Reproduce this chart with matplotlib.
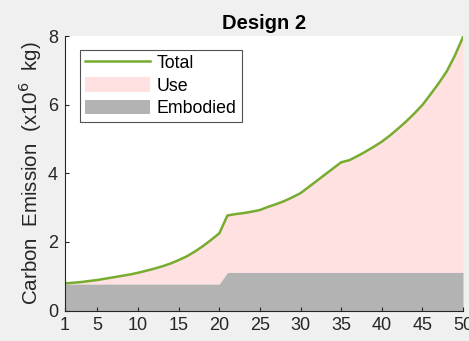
import numpy as np
import matplotlib.pyplot as plt

# 年份
years = list(range(1, 51))

# 隐含碳排放 (x10^6 kg)
embodied = [0.77] * 20 + [1.11] * 30

# 总碳排放 (x10^6 kg)
total = [0.79, 0.81, 0.83, 0.86, 0.89, 0.93, 0.97, 1.01, 1.05, 1.10,
         1.16, 1.22, 1.29, 1.37, 1.47, 1.58, 1.72, 1.88, 2.06, 2.25,
         2.77, 2.81, 2.84, 2.88, 2.93, 3.02, 3.10, 3.19, 3.30, 3.42,
         3.60, 3.78, 3.96, 4.14, 4.32, 4.38, 4.50, 4.63, 4.77, 4.92,
         5.10, 5.30, 5.51, 5.74, 5.99, 6.30, 6.62, 6.97, 7.43, 7.97]

x_ticks = [1, 5, 10, 15, 20, 25, 30, 35, 40, 45, 50]
y_ticks = [0, 2, 4, 6, 8]

plt.rcParams['font.family'] = ['Liberation Sans', 'DejaVu Sans']

fig = plt.figure(figsize=(4.69, 3.41), dpi=100, facecolor='#f0f0f0')
ax = fig.add_axes([0.1386, 0.0894, 0.8486, 0.8050])

x = np.array(years)
emb = np.array(embodied)
tot = np.array(total)

# 使用阶段 = 总量 - 隐含
ax.fill_between(x, emb, tot, color='#ffe1e2', linewidth=0, label='Use')
ax.fill_between(x, 0, emb, color='#b3b3b3', linewidth=0, label='Embodied')
ax.plot(x, tot, color='#77ac30', linewidth=1.8, label='Total')

ax.set_xlim(1, 50)
ax.set_ylim(0, 8)
ax.set_xticks(x_ticks)
ax.set_yticks(y_ticks)
ax.tick_params(direction='in', length=3, width=0.8, labelsize=13,
               colors='#262626', pad=5)
for side in ['top', 'right']:
    ax.spines[side].set_visible(False)
for side in ['left', 'bottom']:
    ax.spines[side].set_color('#262626')
    ax.spines[side].set_linewidth(0.8)

ax.set_title('Design 2', fontsize=14.5, fontweight='bold', color='#000000', pad=5)
ax.set_ylabel('Carbon  Emission  (x10$^6$  kg)', fontsize=14.8,
              color='#262626', labelpad=3)

handles, labels = ax.get_legend_handles_labels()
order = [2, 0, 1]
leg = ax.legend([handles[i] for i in order], [labels[i] for i in order],
                loc='upper left', bbox_to_anchor=(0.037, 0.95),
                fontsize=12.8, frameon=True, fancybox=False,
                edgecolor='#262626', handlelength=3.7, handleheight=0.9,
                borderpad=0.28, labelspacing=0.28, handletextpad=0.35,
                borderaxespad=0)
leg.get_frame().set_linewidth(0.8)

fig.savefig('out.png', dpi=100, facecolor=fig.get_facecolor())
